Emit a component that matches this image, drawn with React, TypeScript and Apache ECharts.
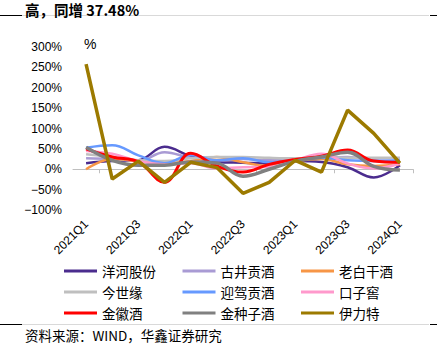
import React, { useEffect, useRef } from "react";
import * as echarts from "echarts";

const categories = [
  "2021Q1", "2021Q2", "2021Q3", "2021Q4",
  "2022Q1", "2022Q2", "2022Q3", "2022Q4",
  "2023Q1", "2023Q2", "2023Q3", "2023Q4",
  "2024Q1",
];

const seriesNames = [
  "洋河股份", "古井贡酒", "老白干酒",
  "今世缘", "迎驾贡酒", "口子窖",
  "金徽酒", "金种子酒", "伊力特",
];

const seriesColors = [
  "#4B2C8E", "#A99BD4", "#F79646",
  "#BFBFBF", "#6699FF", "#FF99CC",
  "#FF0000", "#808080", "#9C7A00",
];

const yanghe = [15, 20, 22, 55, 32, 18, 16, 14, 20, 18, 5, -20, 10];
const gujing = [27, 25, 20, 42, 28, 22, 25, 22, 25, 28, 30, 22, 20];
const laobaigan = [0, 25, 20, 15, 20, 30, 17, 8, 20, 25, 12, 8, 12];
const jinshiyuan = [37, 30, 22, 20, 27, 30, 30, 28, 27, 30, 28, 28, 28];
const yingjia = [53, 59, 34, 15, 35, 22, 27, 17, 22, 28, 22, 20, 22];
const kouzijiao = [45, 38, 20, 12, 15, 2, 5, 6, 22, 38, 14, 2, 14];
const jinhui = [50, 30, 18, -32, 39, 8, -7, 12, 24, 32, 47, 20, 17];
const jinzhongzi = [54, 22, 10, 10, 18, 15, -17, 0, 20, 30, 42, 7, -2];
const yilite = [258, -24, 20, -32, 17, 4, -59, -32, 22, -7, 145, 88, 15];

const seriesData = [
  yanghe, gujing, laobaigan, jinshiyuan, yingjia, kouzijiao, jinhui, jinzhongzi, yilite,
];
const seriesWidths = [2.5, 2.5, 2.5, 2.5, 2.5, 2.5, 3, 3.5, 3.5];
const yTicks = { min: -100, max: 300, interval: 50 };

const CJK = '"Noto Sans CJK SC", "Noto Sans", sans-serif';
const LAT = '"Liberation Sans", Arial, sans-serif';

export default function App() {
  const ref = useRef<HTMLDivElement>(null);

  useEffect(() => {
    document.body.style.margin = "0";
    if (!ref.current) return;
    const chart = echarts.init(ref.current, undefined, { renderer: "svg" });

    const legendCols = [0, 1, 2].map((c) => ({
      show: true,
      orient: "vertical",
      left: 64 + c * 118.5,
      top: 264,
      padding: 0,
      itemWidth: 33,
      itemHeight: 3,
      itemGap: 7,
      icon: "rect",
      textStyle: { fontFamily: CJK, fontSize: 13.5, color: "#000", lineHeight: 14 },
      data: [seriesNames[c], seriesNames[c + 3], seriesNames[c + 6]],
    }));

    chart.setOption({
      animation: false,
      color: seriesColors,
      grid: {
        left: 73,
        top: 47,
        width: 340,
        height: 163,
        containLabel: false,
      },
      legend: legendCols,
      xAxis: [
        {
          type: "category",
          data: categories,
          boundaryGap: true,
          axisLine: { onZero: true, lineStyle: { color: "#BFBFBF", width: 1 } },
          axisTick: {
            show: true,
            length: 4,
            interval: (i: number) => i % 3 === 1,
            lineStyle: { color: "#BFBFBF" },
          },
          axisLabel: { show: false },
        },
        {
          type: "category",
          data: categories,
          boundaryGap: true,
          position: "bottom",
          axisLine: { show: false, onZero: false },
          axisTick: { show: false },
          axisLabel: {
            interval: 1,
            rotate: 45,
            fontFamily: LAT,
            fontSize: 12,
            color: "#000",
            margin: 12,
          },
        },
      ],
      yAxis: {
        type: "value",
        min: yTicks.min,
        max: yTicks.max,
        interval: yTicks.interval,
        axisLine: { show: false },
        axisTick: { show: false },
        splitLine: { show: false },
        axisLabel: {
          fontFamily: LAT,
          fontSize: 12,
          color: "#000",
          margin: 11,
          formatter: (v: number) => (v < 0 ? "\u2212" : "") + Math.abs(v) + "%",
        },
      },
      series: seriesNames.map((name, i) => ({
        name,
        type: "line",
        xAxisIndex: 0,
        data: seriesData[i],
        smooth: i === 8 ? false : 0.4,
        showSymbol: false,
        symbol: "none",
        lineStyle: { width: seriesWidths[i], color: seriesColors[i] },
        itemStyle: { color: seriesColors[i] },
      })),
      graphic: [
        { type: "line", shape: { x1: 0, y1: 15.5, x2: 22, y2: 15.5 }, style: { stroke: "#000", lineWidth: 1 } },
        { type: "line", shape: { x1: 22, y1: 15.5, x2: 429, y2: 15.5 }, style: { stroke: "#D9D9D9", lineWidth: 1 } },
        { type: "line", shape: { x1: 430, y1: 15.5, x2: 437, y2: 15.5 }, style: { stroke: "#000", lineWidth: 1 } },
        {
          type: "text",
          x: 25,
          y: 9,
          style: {
            text: "高，同增 37.48%",
            font: `bold 14.5px ${CJK}`,
            fill: "#000",
            verticalAlign: "middle",
            textVerticalAlign: "middle",
          },
        },
        {
          type: "text",
          x: 84,
          y: 44,
          style: { text: "%", font: `14px ${LAT}`, fill: "#000", verticalAlign: "middle", textVerticalAlign: "middle" },
        },
        { type: "line", shape: { x1: 0, y1: 324.5, x2: 22, y2: 324.5 }, style: { stroke: "#000", lineWidth: 1 } },
        { type: "line", shape: { x1: 22, y1: 324.5, x2: 429, y2: 324.5 }, style: { stroke: "#D9D9D9", lineWidth: 1 } },
        { type: "line", shape: { x1: 430, y1: 324.5, x2: 437, y2: 324.5 }, style: { stroke: "#000", lineWidth: 1 } },
        {
          type: "text",
          x: 25,
          y: 335,
          style: {
            text: "资料来源：WIND，华鑫证券研究",
            font: `13.5px ${CJK}`,
            fill: "#000",
            verticalAlign: "middle",
            textVerticalAlign: "middle",
          },
        },
      ],
    });

    return () => chart.dispose();
  }, []);

  return <div ref={ref} style={{ width: 444, height: 351 }} />;
}
